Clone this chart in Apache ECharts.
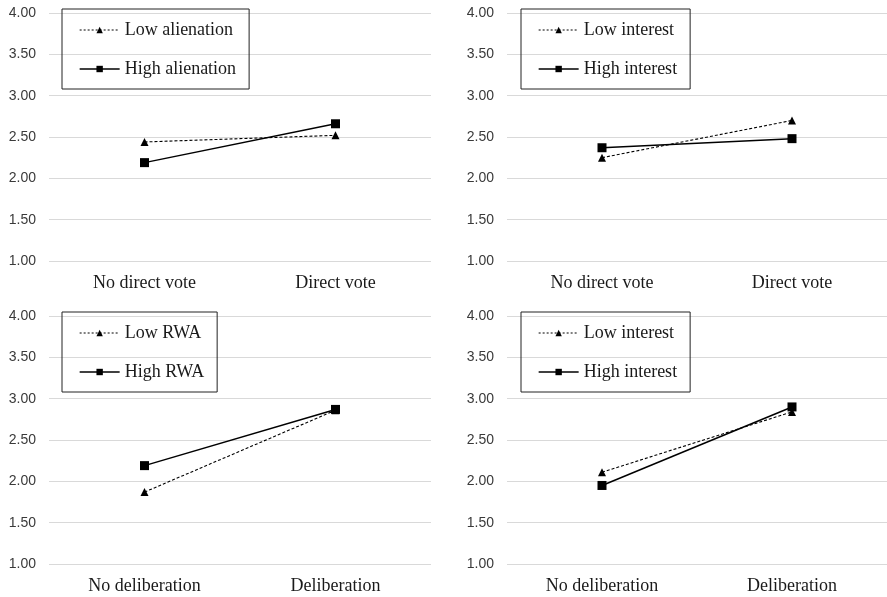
<!DOCTYPE html>
<html>
<head>
<meta charset="utf-8">
<script src="https://cdn.jsdelivr.net/npm/echarts@6/dist/echarts.min.js"></script>
<style>html,body{margin:0;padding:0;background:#fff}#c{width:887px;height:597px}</style>
</head>
<body>
<div id="c"></div>
<script>
// ---- data ----
const voteCategories = ['No direct vote', 'Direct vote'];
const delibCategories = ['No deliberation', 'Deliberation'];
const lowAlienation = [2.44, 2.52];
const highAlienation = [2.19, 2.66];
const lowInterestVote = [2.25, 2.70];
const highInterestVote = [2.37, 2.48];
const lowRWA = [1.87, 2.86];
const highRWA = [2.19, 2.87];
const lowInterestDelib = [2.11, 2.84];
const highInterestDelib = [1.95, 2.90];
const yMin = 1.0, yMax = 4.0, yStep = 0.5;

const panels = [
  {cats: voteCategories, low: ['Low alienation', lowAlienation], high: ['High alienation', highAlienation]},
  {cats: voteCategories, low: ['Low interest', lowInterestVote], high: ['High interest', highInterestVote]},
  {cats: delibCategories, low: ['Low RWA', lowRWA], high: ['High RWA', highRWA]},
  {cats: delibCategories, low: ['Low interest', lowInterestDelib], high: ['High interest', highInterestDelib]}
];

// ---- layout ----
const grids = [
  {left: 49, top: 13, width: 382, height: 248},
  {left: 507, top: 13, width: 380, height: 248},
  {left: 49, top: 316, width: 382, height: 248},
  {left: 507, top: 316, width: 380, height: 248}
];
const legendPos = [
  {left: 62, top: 9}, {left: 521, top: 9}, {left: 62, top: 312}, {left: 521, top: 312}
];

const chart = echarts.init(document.getElementById('c'));
const option = {
  animation: false,
  backgroundColor: '#fff',
  grid: grids,
  xAxis: panels.map((p, i) => ({
    type: 'category', gridIndex: i, data: p.cats, boundaryGap: true,
    axisLine: {show: false}, axisTick: {show: false},
    axisLabel: {fontFamily: 'Liberation Serif', fontSize: 18, color: '#1a1a1a', margin: 13}
  })),
  yAxis: panels.map((p, i) => ({
    type: 'value', gridIndex: i, min: yMin, max: yMax, interval: yStep,
    axisLine: {show: false}, axisTick: {show: false},
    splitLine: {lineStyle: {color: '#d9d9d9', width: 1}},
    axisLabel: {fontFamily: 'Liberation Sans', fontSize: 14, color: '#3a3a3a', margin: 13,
      formatter: v => v.toFixed(2)}
  })),
  legend: panels.map((p, i) => ({
    orient: 'vertical', left: legendPos[i].left, top: legendPos[i].top,
    data: [
      {name: p.low[0], lineStyle: {width: 1, type: [2, 2]}},
      {name: p.high[0], lineStyle: {width: 1.3}}
    ],
    itemWidth: 40, itemHeight: 8, itemGap: 21,
    borderColor: '#222', borderWidth: 1,
    padding: [12, 13, 11, 17],
    selectedMode: false,
    textStyle: {fontFamily: 'Liberation Serif', fontSize: 18, color: '#1a1a1a', lineHeight: 18}
  })),
  series: panels.flatMap((p, i) => [
    {
      name: p.low[0], type: 'line', xAxisIndex: i, yAxisIndex: i, data: p.low[1],
      symbol: 'triangle', symbolSize: 8, color: '#000',
      lineStyle: {color: '#000', width: 1.1, type: [3, 2]},
      itemStyle: {color: '#000'}
    },
    {
      name: p.high[0], type: 'line', xAxisIndex: i, yAxisIndex: i, data: p.high[1],
      symbol: 'rect', symbolSize: 9, color: '#000',
      lineStyle: {color: '#000', width: 1.5, type: 'solid'},
      itemStyle: {color: '#000'}
    }
  ])
};
chart.setOption(option);
</script>
</body>
</html>
